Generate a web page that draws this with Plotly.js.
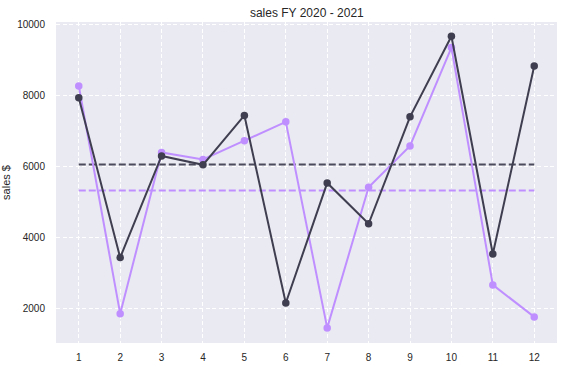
<!DOCTYPE html>
<html>
<head>
<meta charset="utf-8">
<script src="https://cdn.plot.ly/plotly-3.0.1.min.js"></script>
<style>html,body{margin:0;padding:0;background:#fff;}#chart{width:564px;height:367px;}</style>
</head>
<body>
<div id="chart"></div>
<script>
const months = [1,2,3,4,5,6,7,8,9,10,11,12];
const sales2020 = [7940, 3440, 6300, 6050, 7440, 2160, 5540, 4390, 7400, 9670, 3540, 8830];
const sales2021 = [8270, 1860, 6400, 6200, 6730, 7260, 1460, 5420, 6580, 9350, 2670, 1770];
const yTicks = [2000, 4000, 6000, 8000, 10000];
const darkColor = '#3e3e50';
const purpleColor = '#bf8fff';

const mean = a => a.reduce((s,v)=>s+v,0)/a.length;
const m2020 = mean(sales2020);
const m2021 = mean(sales2021);

const traces = [
  {x: months, y: months.map(()=>m2020), mode:'lines', line:{color:'#4a4a5c', width:2, dash:'7px,3px'}, hoverinfo:'skip'},
  {x: months, y: months.map(()=>m2021), mode:'lines', line:{color:purpleColor, width:2, dash:'7px,3px'}, hoverinfo:'skip'},
  {x: months, y: sales2021, mode:'lines+markers', line:{color:purpleColor, width:2}, marker:{color:purpleColor, size:7.5}},
  {x: months, y: sales2020, mode:'lines+markers', line:{color:darkColor, width:2}, marker:{color:darkColor, size:7.5}}
];

const layout = {
  width:564, height:367,
  margin:{l:56, r:7, t:22, b:24},
  paper_bgcolor:'#ffffff',
  plot_bgcolor:'#eaeaf2',
  showlegend:false,
  font:{family:'"Liberation Sans", Arial, sans-serif', size:10, color:'#262626'},
  title:{text:'sales FY 2020 - 2021', font:{size:12, color:'#262626'}, x:0.544, xanchor:'center', y:0.965, yanchor:'middle'},
  xaxis:{
    range:[0.45, 12.55], tickvals:months, ticktext:months.map(String),
    showgrid:true, gridcolor:'#ffffff', griddash:'4px,2.5px', gridwidth:1,
    zeroline:false, showline:false,
    ticks:'outside', ticklen:5, tickcolor:'rgba(0,0,0,0)',
    tickfont:{size:10, color:'#262626'}
  },
  yaxis:{
    range:[1035, 10070], tickvals:yTicks, ticktext:yTicks.map(String),
    showgrid:true, gridcolor:'#ffffff', griddash:'4px,2.5px', gridwidth:1,
    zeroline:false, showline:false,
    ticks:'outside', ticklen:8, tickcolor:'rgba(0,0,0,0)',
    tickfont:{size:10, color:'#262626'},
    title:{text:'sales $', font:{size:11, color:'#262626'}, standoff:9}
  }
};
Plotly.newPlot('chart', traces, layout, {displayModeBar:false, staticPlot:true});
</script>
</body>
</html>
